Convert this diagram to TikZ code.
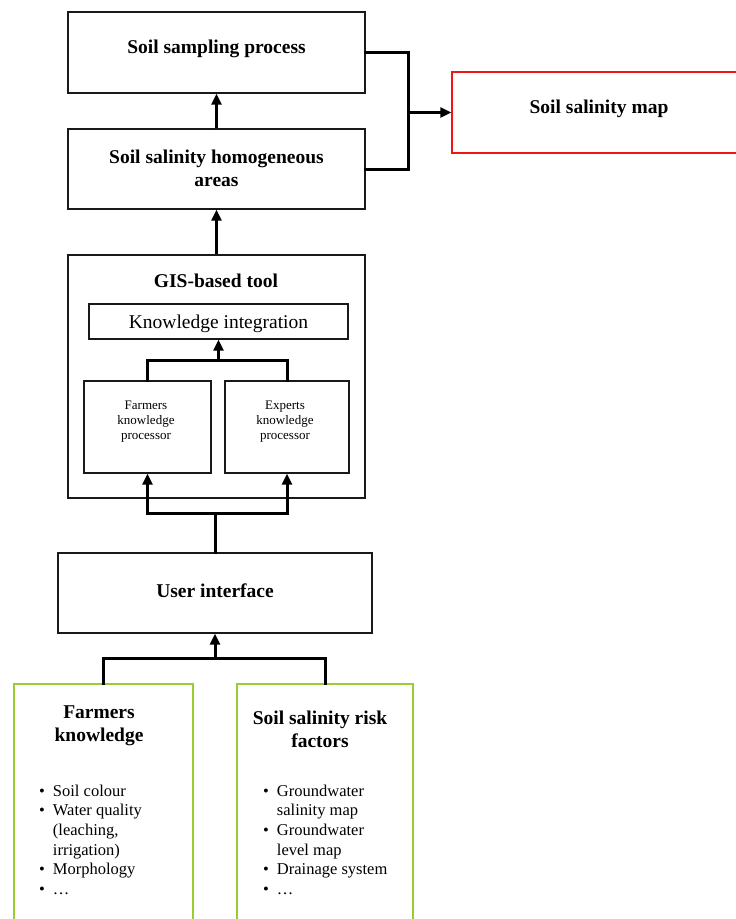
\documentclass[tikz,border=0pt]{standalone}
\usepackage{fontspec}
\setmainfont{Liberation Serif}
\usetikzlibrary{arrows.meta}
\definecolor{boxgreen}{RGB}{154,205,50}
\definecolor{boxred}{RGB}{240,20,20}
\tikzset{
  box/.style={draw=black!90, line width=1.4pt, inner sep=0pt, fill=none},
  gbox/.style={box, draw=boxgreen, line width=1.6pt},
  rbox/.style={box, draw=boxred, line width=1.3pt},
  conn/.style={line width=3pt, line cap=rect, line join=miter},
  arr/.style={line width=3pt, -{Triangle[length=11pt,width=10pt]}},
  head/.style={inner sep=0pt, anchor=base, font=\fontsize{19.5}{23}\selectfont\bfseries},
  small/.style={inner sep=0pt, anchor=base, font=\fontsize{13}{15}\selectfont},
  listtxt/.style={inner sep=0pt, anchor=base west, font=\fontsize{16.5}{19.7}\selectfont},
}
\begin{document}
\begin{tikzpicture}[x=1pt,y=-1pt]
\useasboundingbox (0,0) rectangle (736,919);
\clip (0,0) rectangle (736,919);
\fill[white] (0,0) rectangle (736,919);
% boxes
\node[box, minimum width=297pt, minimum height=81pt] (samp) at (216.5,52.5) {};
\node[box, minimum width=297pt, minimum height=80pt] (hom) at (216.5,169) {};
\node[rbox, minimum width=294pt, minimum height=81pt] (map) at (599,112.5) {};
\node[box, minimum width=297pt, minimum height=243pt] (gis) at (216.5,376.5) {};
\node[box, minimum width=259pt, minimum height=35pt] (ki) at (218.5,321.5) {};
\node[box, minimum width=127pt, minimum height=92pt] (fp) at (147.5,427) {};
\node[box, minimum width=124pt, minimum height=92pt] (ep) at (287,427) {};
\node[box, minimum width=314pt, minimum height=80pt] (ui) at (215,593) {};
\node[gbox, minimum width=179pt, minimum height=256pt] (fk) at (103.5,812) {};
\node[gbox, minimum width=176pt, minimum height=256pt] (rf) at (325,812) {};
% texts
\node[head] (sampt) at (216.5,53) {Soil sampling process};
\node[head] (homt) at (216.5,163) {\begin{tabular}[t]{@{}c@{}}Soil salinity homogeneous\\ areas\end{tabular}};
\node[head] (mapt) at (599,113) {Soil salinity map};
\node[head] (gist) at (216,287) {GIS-based tool};
\node[inner sep=0pt, anchor=base, font=\fontsize{19.5}{23}\selectfont] (kit) at (218.5,328) {Knowledge integration};
\node[small] (fpt) at (146,409) {\begin{tabular}[t]{@{}c@{}}Farmers\\ knowledge\\ processor\end{tabular}};
\node[small] (ept) at (285,409) {\begin{tabular}[t]{@{}c@{}}Experts\\ knowledge\\ processor\end{tabular}};
\node[head] (uit) at (215,597) {User interface};
\node[head] (fkt) at (99,718) {\begin{tabular}[t]{@{}c@{}}Farmers\\ knowledge\end{tabular}};
\node[head] (rft) at (320,724) {\begin{tabular}[t]{@{}c@{}}Soil salinity risk\\ factors\end{tabular}};
\node[listtxt] (fkl) at (39,796) {\begin{tabular}[t]{@{}l@{\hspace{8pt}}l@{}}
\textbullet & Soil colour\\
\textbullet & Water quality\\
 & (leaching,\\
 & irrigation)\\
\textbullet & Morphology\\
\textbullet & …
\end{tabular}};
\node[listtxt] (rfl) at (263,796) {\begin{tabular}[t]{@{}l@{\hspace{8pt}}l@{}}
\textbullet & Groundwater\\
 & salinity map\\
\textbullet & Groundwater\\
 & level map\\
\textbullet & Drainage system\\
\textbullet & …
\end{tabular}};
% connectors
\draw[arr] (hom.north) -- (samp.south);
\coordinate (j) at (408,112.5);
\draw[conn] (samp.east) -| (j) |- (hom.east);
\draw[arr] (j) -- (map.west);
\draw[arr] (gis.north) -- (hom.south);
\coordinate (kj) at (218.5,360);
\draw[conn] (fp.north) -- (fp.north |- kj) -- (ep.north |- kj) -- (ep.north);
\draw[arr] (kj) -- (ki.south);
\coordinate (uj) at (215,513);
\draw[conn] (ui.north) -- (uj);
\draw[conn] (fp.south |- uj) -- (ep.south |- uj);
\draw[arr] (fp.south |- uj) -- (fp.south);
\draw[arr] (ep.south |- uj) -- (ep.south);
\coordinate (gj) at (215,658);
\draw[conn] (fk.north) -- (fk.north |- gj) -- (rf.north |- gj) -- (rf.north);
\draw[arr] (gj) -- (ui.south);
\end{tikzpicture}
\end{document}
